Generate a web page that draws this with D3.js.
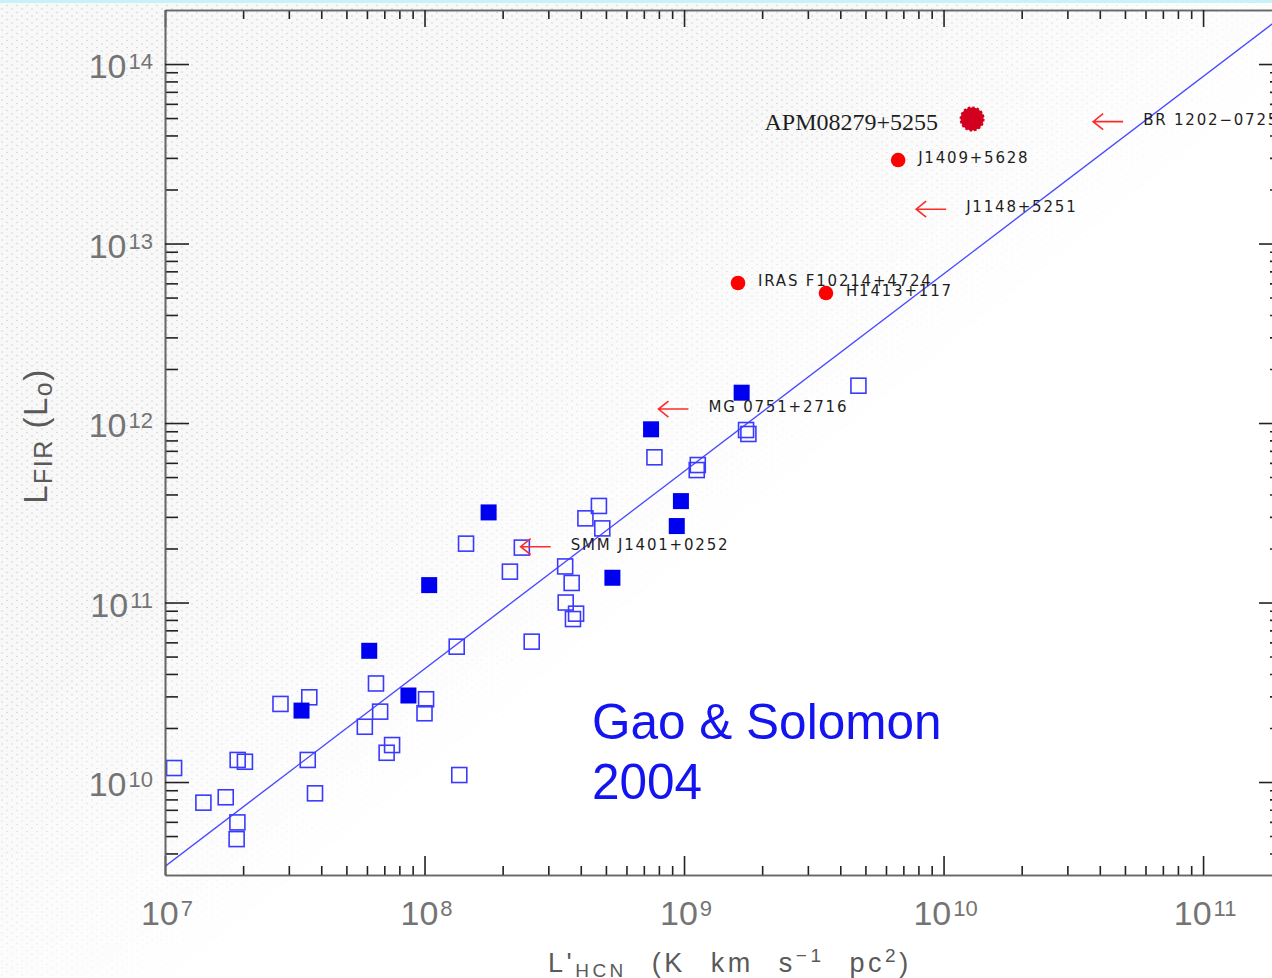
<!DOCTYPE html>
<html>
<head>
<meta charset="utf-8">
<script src="https://cdn.jsdelivr.net/npm/d3@7"></script>
<style>
html, body { margin: 0; padding: 0; background: #fff; }
svg { display: block; }
</style>
</head>
<body>
<div class="chart"></div>
<script>
// values are log10
const openLogHCN = [7.035, 7.148, 7.234, 7.279, 7.276, 7.280, 7.308, 7.445, 7.556, 7.550,
  7.578, 7.813, 7.829, 7.770, 7.875, 7.854, 8.006, 8.000, 8.134, 8.160,
  8.375, 8.329, 8.620, 8.542, 8.567, 8.544, 8.584, 8.572, 8.413, 8.124,
  9.672, 9.239, 9.248, 8.886, 9.053, 9.049, 8.672, 8.685];
const openLogFIR = [10.078, 9.885, 9.915, 9.775, 9.682, 10.123, 10.113, 10.435, 10.472, 10.123,
  9.937, 10.549, 10.392, 10.308, 10.206, 10.163, 10.461, 10.383, 10.039, 11.328,
  11.306, 11.172, 11.469, 11.201, 11.109, 11.000, 10.938, 10.908, 10.782, 10.754,
  12.208, 11.961, 11.939, 11.809, 11.766, 11.738, 11.538, 11.413];

const filledLogHCN = [7.526, 7.938, 7.787, 8.018, 8.247, 8.724, 8.873, 8.988, 8.972, 9.222];
const filledLogFIR = [10.398, 10.482, 10.731, 11.097, 11.502, 11.138, 11.965, 11.565, 11.426, 12.169];

// high-z detections
const detNames = ['APM08279+5255', 'J1409+5628', 'IRAS F10214+4724', 'H1413+117'];
const detLogHCN = [10.110, 9.825, 9.208, 9.547];
const detLogFIR = [13.694, 13.465, 12.780, 12.724];

// high-z upper limits in L'HCN
const limNames = ['BR 1202\u22120725', 'J1148+5251', 'MG 0751+2716', 'SMM J1401+0252'];
const limLogHCN = [10.692, 10.010, 9.017, 8.486];
const limLogFIR = [13.679, 13.191, 12.078, 11.311];

// fitted relation log LFIR = a log L'HCN + b
const fitSlope = 1.10;
const fitIntercept = 1.83;

const xTickExp = [7, 8, 9, 10, 11];
const yTickExp = [10, 11, 12, 13, 14];

const width = 1272, height = 978;
const pLeft = 165, pRight = 1283, pTop = 10, pBottom = 875;

const svg = d3.select('.chart')
  .append('svg')
  .attr('width', width)
  .attr('height', height);

const defs = svg.append('defs');

// dotted slide background fading to the lower right
let pat = defs.append('pattern')
  .attr('id', 'dots')
  .attr('patternUnits', 'userSpaceOnUse')
  .attr('width', 10).attr('height', 7);
pat.append('circle').attr('cx', 2).attr('cy', 2).attr('r', 0.8).attr('fill', '#cfcfcf');
pat.append('circle').attr('cx', 7).attr('cy', 5.5).attr('r', 0.8).attr('fill', '#cfcfcf');

let grad = defs.append('linearGradient')
  .attr('id', 'fade')
  .attr('gradientUnits', 'userSpaceOnUse')
  .attr('x1', 0).attr('y1', 0).attr('x2', 560).attr('y2', 690);
grad.append('stop').attr('offset', 0).attr('stop-color', '#fff');
grad.append('stop').attr('offset', 0.62).attr('stop-color', '#fff');
grad.append('stop').attr('offset', 1).attr('stop-color', '#000');

defs.append('mask').attr('id', 'fadeMask')
  .append('rect').attr('width', width).attr('height', height).attr('fill', 'url(#fade)');

defs.append('clipPath').attr('id', 'plotClip')
  .append('rect').attr('x', pLeft).attr('y', pTop).attr('width', pRight - pLeft).attr('height', pBottom - pTop);

svg.append('rect').attr('width', width).attr('height', height).attr('fill', '#fff');
let bgLayer = svg.append('g').attr('mask', 'url(#fadeMask)');
bgLayer.append('rect').attr('width', width).attr('height', height).attr('fill', '#f8f8f8');
bgLayer.append('rect').attr('width', width).attr('height', height).attr('fill', 'url(#dots)');
svg.append('rect').attr('x', 0).attr('y', 0).attr('width', width).attr('height', 3).attr('fill', '#c9f1f8');

let x = d3.scaleLog()
  .domain([1e7, Math.pow(10, 11.308)])
  .range([pLeft, pRight]);

let y = d3.scaleLog()
  .domain([Math.pow(10, 9.482), Math.pow(10, 14.301)])
  .range([pBottom, pTop]);

const p10 = v => Math.pow(10, v);

let plot = svg.append('g').attr('clip-path', 'url(#plotClip)');

// fit line
let fitX = x.domain();
plot.append('line')
  .attr('x1', x(fitX[0]))
  .attr('y1', y(p10(fitSlope * Math.log10(fitX[0]) + fitIntercept)))
  .attr('x2', x(fitX[1]))
  .attr('y2', y(p10(fitSlope * Math.log10(fitX[1]) + fitIntercept)))
  .attr('stroke', '#4a4aff')
  .attr('stroke-width', 1.3);

// open squares
let sq = 15;
plot.selectAll('rect.open')
  .data(openLogHCN.map((d, i) => [d, openLogFIR[i]]))
  .enter()
  .append('rect')
  .attr('class', 'open')
  .attr('x', d => x(p10(d[0])) - sq / 2)
  .attr('y', d => y(p10(d[1])) - sq / 2)
  .attr('width', sq).attr('height', sq)
  .attr('fill', 'none')
  .attr('stroke', '#3a3aff')
  .attr('stroke-width', 1.6);

// filled squares
plot.selectAll('rect.filled')
  .data(filledLogHCN.map((d, i) => [d, filledLogFIR[i]]))
  .enter()
  .append('rect')
  .attr('class', 'filled')
  .attr('x', d => x(p10(d[0])) - 8)
  .attr('y', d => y(p10(d[1])) - 8)
  .attr('width', 16).attr('height', 16)
  .attr('fill', '#0000f0');

// upper limit arrows
let lims = limNames.map((n, i) => ({name: n, lx: limLogHCN[i], ly: limLogFIR[i]}));
let limG = svg.append('g');
lims.forEach(d => {
  let tx = x(p10(d.lx)), ty = y(p10(d.ly));
  let hx = tx - 30;
  limG.append('path')
    .attr('d', `M${tx},${ty}L${hx},${ty}M${hx + 10},${ty - 8}L${hx},${ty}L${hx + 10},${ty + 8}`)
    .attr('fill', 'none')
    .attr('stroke', '#ff2a2a')
    .attr('stroke-width', 1.6);
  limG.append('text')
    .attr('x', tx + 20)
    .attr('y', ty + 3)
    .attr('font-family', 'DejaVu Sans')
    .attr('font-size', 15)
    .attr('letter-spacing', 1.8)
    .attr('fill', '#1e1e1e')
    .text(d.name);
});

// detections
let dets = detNames.map((n, i) => ({name: n, lx: detLogHCN[i], ly: detLogFIR[i]}));
let detG = svg.append('g');
dets.forEach((d, i) => {
  let cx = x(p10(d.lx)), cy = y(p10(d.ly));
  if (i === 0) {
    detG.append('circle')
      .attr('cx', cx).attr('cy', cy).attr('r', 11.5)
      .attr('fill', '#d2001e')
      .attr('stroke', '#d2001e')
      .attr('stroke-width', 2)
      .attr('stroke-dasharray', '2.5,2');
    detG.append('text')
      .attr('x', cx - 34)
      .attr('y', cy + 11)
      .attr('text-anchor', 'end')
      .attr('font-family', 'Liberation Serif')
      .attr('font-size', 24)
      .attr('fill', '#1e1e1e')
      .text(d.name);
  } else {
    detG.append('circle')
      .attr('cx', cx).attr('cy', cy).attr('r', 7.3)
      .attr('fill', '#ff0000');
    detG.append('text')
      .attr('x', cx + 20)
      .attr('y', cy + 3)
      .attr('font-family', 'DejaVu Sans')
      .attr('font-size', 15)
      .attr('letter-spacing', 1.8)
      .attr('fill', '#1e1e1e')
      .text(d.name);
  }
});

// axes
let xMajor = xTickExp.map(p10);
let yMajor = yTickExp.map(p10);
let xMinor = x.ticks().filter(t => !xMajor.some(m => Math.abs(m - t) / t < 1e-9));
let yMinor = y.ticks().filter(t => !yMajor.some(m => Math.abs(m - t) / t < 1e-9));

function styleAxis(g) {
  g.select('.domain').attr('stroke', '#666').attr('stroke-width', 1.6);
  g.selectAll('.tick line').attr('stroke', '#222').attr('stroke-width', 1.6);
  g.selectAll('.tick text').remove();
}

const axisSpec = [
  [d3.axisBottom, x, `translate(0,${pBottom})`, 19, 9],
  [d3.axisTop, x, `translate(0,${pTop})`, 17, 9],
  [d3.axisLeft, y, `translate(${pLeft},0)`, 24, 13],
  [d3.axisRight, y, `translate(${pRight},0)`, 24, 13]
];
axisSpec.forEach(([fn, sc, tr, big, small]) => {
  let majors = sc === x ? xMajor : yMajor;
  let minors = sc === x ? xMinor : yMinor;
  svg.append('g').attr('transform', tr)
    .call(fn(sc).tickValues(minors).tickSize(-small).tickSizeOuter(0))
    .call(styleAxis);
  svg.append('g').attr('transform', tr)
    .call(fn(sc).tickValues(majors).tickSize(-big).tickSizeOuter(0))
    .call(styleAxis);
});

// tick labels 10^n
function powerLabel(sel, exp) {
  sel.append('tspan').text('10');
  sel.append('tspan').attr('font-size', 22).attr('dy', -9).attr('dx', 2).text(exp);
}

xTickExp.forEach(e => {
  svg.append('text')
    .attr('x', x(p10(e)) + 2)
    .attr('y', pBottom + 50)
    .attr('text-anchor', 'middle')
    .attr('font-family', 'Liberation Sans')
    .attr('font-size', 34)
    .attr('fill', '#747474')
    .call(powerLabel, e);
});

yTickExp.forEach(e => {
  svg.append('text')
    .attr('x', 153)
    .attr('y', y(p10(e)) + 14)
    .attr('text-anchor', 'end')
    .attr('font-family', 'Liberation Sans')
    .attr('font-size', 34)
    .attr('fill', '#747474')
    .call(powerLabel, e);
});

// axis titles
let yt = svg.append('text')
  .attr('transform', 'translate(47,436) rotate(-90)')
  .attr('text-anchor', 'middle')
  .attr('font-family', 'Liberation Sans')
  .attr('font-size', 33)
  .attr('letter-spacing', 1.5)
  .attr('fill', '#5a5a5a');
yt.append('tspan').text('L');
yt.append('tspan').attr('font-size', 25).attr('dy', 5).text('FIR');
yt.append('tspan').attr('dy', -5).text(' (L');
yt.append('tspan').attr('font-size', 25).attr('dy', 5).text('o');
yt.append('tspan').attr('dy', -5).text(')');

let xt = svg.append('text')
  .attr('x', 548)
  .attr('y', 972)
  .attr('font-family', 'Liberation Sans')
  .attr('font-size', 27)
  .attr('letter-spacing', 3.5)
  .attr('word-spacing', 14)
  .attr('fill', '#5a5a5a');
xt.append('tspan').text("L'");
xt.append('tspan').attr('font-size', 19).attr('dy', 5).text('HCN');
xt.append('tspan').attr('dy', -5).text(' (K km s');
xt.append('tspan').attr('font-size', 19).attr('dy', -10).text('\u22121');
xt.append('tspan').attr('dy', 10).text(' pc');
xt.append('tspan').attr('font-size', 19).attr('dy', -10).text('2');
xt.append('tspan').attr('dy', 10).text(')');

// source note
let note = svg.append('text')
  .attr('font-family', 'Liberation Sans')
  .attr('font-size', 49.5)
  .attr('fill', '#1414f0');
note.append('tspan').attr('x', 592).attr('y', 739).text('Gao & Solomon');
note.append('tspan').attr('x', 592).attr('y', 799).text('2004');
</script>
</body>
</html>
